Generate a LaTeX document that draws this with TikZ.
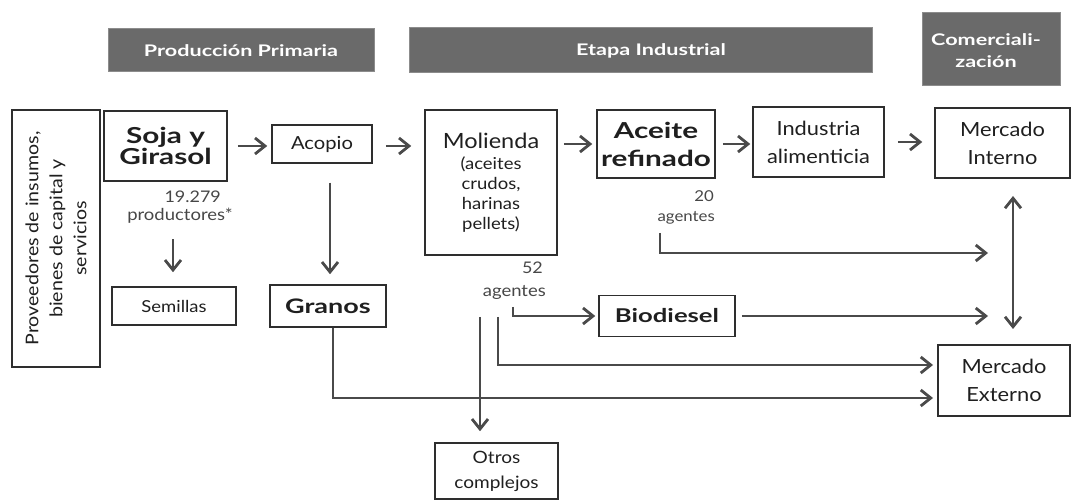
\documentclass[tikz,border=0pt]{standalone}
\usepackage{fontspec}
\setmainfont{Lato}[FakeStretch=1.12,BoldFeatures={FakeStretch=1.35}]
\usetikzlibrary{arrows.meta,calc}
\definecolor{ln}{HTML}{4A4A4A}
\definecolor{bd}{HTML}{2E2E2E}
\definecolor{hd}{HTML}{6A6A6A}
\begin{document}
\begin{tikzpicture}[x=1pt,y=-1pt,
 box/.style={draw=bd,line width=1.5pt,inner sep=0pt,align=center,rectangle,text=black!88},
 hdr/.style={fill=hd,draw=black!45,line width=1pt,inner sep=0pt,align=center,text=white,font=\fontsize{16}{22}\selectfont\bfseries},
 tip/.tip={Straight Barb[length=10pt,width=16pt]},
 arr/.style={draw=ln,line width=2.8pt,-tip},
 dbl/.style={draw=ln,line width=2.8pt,tip-tip},
 lbl/.style={inner sep=0pt,align=right,text=black!72},
 rtxt/.style={inner sep=0pt,align=center,text=black!88}
]
\useasboundingbox (0,0) rectangle (1072,502);

% headers
\node[hdr,minimum width=266pt,minimum height=43pt] (hprod) at (241,50.5) {};
\node[hdr,fill=none,draw=none] (hprodt) at (241,50.5) {Producción Primaria};
\node[hdr,minimum width=463pt,minimum height=45pt] (hind) at (640.5,50.5) {};
\node[hdr,fill=none,draw=none] (hindt) at (651,50.5) {Etapa Industrial};
\node[hdr,minimum width=138pt,minimum height=73pt] (hcom) at (991,49.5) {};
\node[hdr,fill=none,draw=none] (hcomt) at (986,51) {Comerciali-\\zación};

% boxes
\node[box,minimum width=88pt,minimum height=257pt] (prov) at (56,238.5) {};
\node[rtxt,rotate=90,font=\fontsize{17.5}{24}\selectfont] (provt) at (prov.center) {Proveedores de insumos,\\bienes de capital y\\servicios};
\node[box,minimum width=123pt,minimum height=70pt,font=\fontsize{22}{21}\selectfont\bfseries] (soja) at (165.5,146) {Soja y\\Girasol};
\node[box,minimum width=100pt,minimum height=38pt,font=\fontsize{18}{22}\selectfont] (acopio) at (322,144) {Acopio};
\node[box,minimum width=124pt,minimum height=38pt,font=\fontsize{16.5}{22}\selectfont] (semillas) at (174,306) {Semillas};
\node[box,minimum width=116pt,minimum height=42pt,font=\fontsize{20}{22}\selectfont\bfseries] (granos) at (328,306) {Granos};
\node[box,minimum width=132pt,minimum height=145pt,font=\fontsize{16.5}{20}\selectfont] (molienda) at (491,182.5) {{\fontsize{21}{22}\selectfont Molienda}\\[1pt](aceites\\crudos,\\harinas\\pellets)};
\node[box,minimum width=118pt,minimum height=68pt,font=\fontsize{22}{28}\selectfont\bfseries] (aceite) at (656,144) {Aceite\\refinado};
\node[box,minimum width=131pt,minimum height=70pt,font=\fontsize{19.5}{28}\selectfont] (industria) at (818.5,142) {Industria\\alimenticia};
\node[box,minimum width=135pt,minimum height=70pt,font=\fontsize{19.5}{28}\selectfont] (mint) at (1002.5,143) {Mercado\\Interno};
\node[box,minimum width=136pt,minimum height=41pt,font=\fontsize{19}{22}\selectfont\bfseries] (biodiesel) at (667,316) {Biodiesel};
\node[box,minimum width=132pt,minimum height=71pt,font=\fontsize{19.5}{28}\selectfont] (mext) at (1004,380.5) {Mercado\\Externo};
\node[box,minimum width=123pt,minimum height=56pt,font=\fontsize{17}{25}\selectfont] (otros) at (496.5,471) {Otros\\complejos};

% labels
\node[lbl,anchor=east,font=\fontsize{16}{20}\selectfont] (l19a) at (221,197) {19.279};
\node[lbl,anchor=east,font=\fontsize{16.5}{20}\selectfont] (l19b) at (233,216) {productores*};
\node[lbl,anchor=east,font=\fontsize{16}{20}\selectfont] (l52a) at (543,268) {52};
\node[lbl,anchor=east,font=\fontsize{16.5}{20}\selectfont] (l52b) at (546,292) {agentes};
\node[lbl,anchor=east,font=\fontsize{15}{20}\selectfont] (l20a) at (714,196) {20};
\node[lbl,anchor=east,font=\fontsize{15}{20}\selectfont] (l20b) at (715,218) {agentes};

% short arrows
\draw[arr] ([xshift=10pt]soja.east) -- ([xshift=-4pt]soja.east -| acopio.west);
\draw[arr] ([xshift=13pt]acopio.east |- soja.east) -- ([xshift=-13pt]soja.east -| molienda.west);
\draw[arr] ([xshift=6pt]aceite.west -| molienda.east) -- ([xshift=-4pt]aceite.west);
\draw[arr] ([xshift=7pt]aceite.east) -- ([xshift=-2pt]aceite.east -| industria.west);
\draw[arr] ([xshift=13pt]industria.east) -- ([xshift=-12pt]industria.east -| mint.west);
\draw[arr] ($(acopio.south)+(8,19)$) -- ($(granos.north)+(2,-10)$);
\draw[arr] ($(semillas.north)+(-1,-47)$) -- ($(semillas.north)+(-1,-14)$);

% long connectors
\coordinate (c20) at (660,233);
\coordinate (t20) at (988,253);
\draw[arr] (c20) |- (t20);
\coordinate (c52) at (513,307);
\draw[arr] (c52) |- ([xshift=-3pt]biodiesel.west);
\coordinate (tb) at (988,316);
\draw[arr] ([xshift=6pt]biodiesel.east) -- (biodiesel.east -| tb);
\coordinate (dtop) at (1013,196);
\coordinate (dbot) at (1013,329);
\draw[dbl] (dtop) -- (dbot);
\coordinate (m1) at (498,317);
\coordinate (te1) at (933,365);
\draw[arr] (m1) |- (te1);
\coordinate (m2) at (480,317);
\draw[arr] (m2) -- ($(m2 |- otros.north)+(0,-11)$);
\coordinate (te2) at (933,398);
\draw[arr] ($(granos.south)+(5,0)$) |- (te2);
\end{tikzpicture}
\end{document}
